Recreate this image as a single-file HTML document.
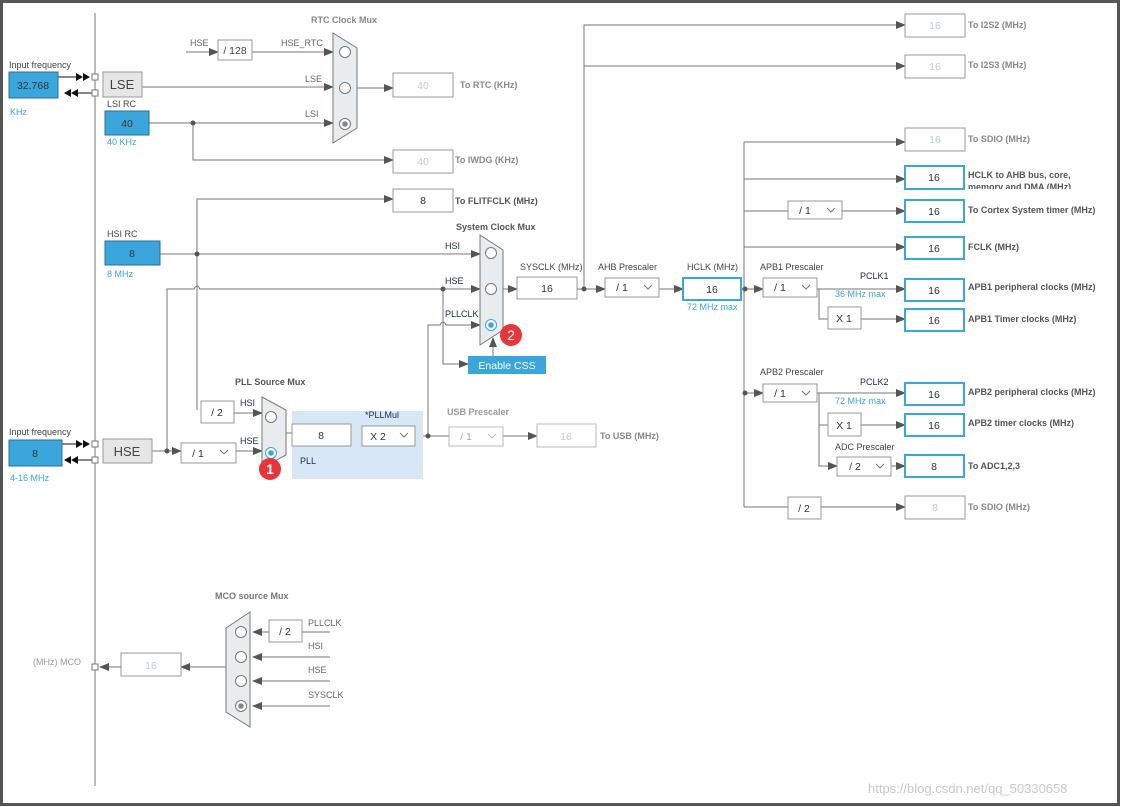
<!DOCTYPE html>
<html><head><meta charset="utf-8"><style>
html,body{margin:0;padding:0;background:#fff;}
svg{display:block;font-family:"Liberation Sans",Arial,sans-serif;}
.l{fill:#666;font-size:9px;}
.lb{fill:#555;font-size:9px;font-weight:bold;}
.d{fill:#1a2a50;font-size:9px;}
.b{fill:#3aa6dc;font-size:9px;}
.v{font-size:10.5px;text-anchor:middle;fill:#333;}
.g{font-size:10.5px;text-anchor:middle;fill:#b8cce0;}
</style></head><body>
<svg width="1121" height="807" viewBox="0 0 1121 807" xmlns="http://www.w3.org/2000/svg">
<defs>
<marker id="a" markerWidth="10" markerHeight="8" refX="9" refY="4" orient="auto" markerUnits="userSpaceOnUse"><path d="M0,0 L10,4 L0,8 z" fill="#555"/></marker>
</defs>
<rect x="1.5" y="1.5" width="1117" height="803" fill="#fff" stroke="#555" stroke-width="3"/>
<g stroke="#777" stroke-width="1" fill="none">
<line x1="95" y1="13" x2="95" y2="786"/>
<line x1="186" y1="52" x2="218" y2="52" marker-end="url(#a)"/>
<line x1="252" y1="52" x2="333" y2="52" marker-end="url(#a)"/>
<line x1="142" y1="87" x2="333" y2="87" marker-end="url(#a)"/>
<line x1="149" y1="123" x2="333" y2="123" marker-end="url(#a)"/>
<polyline points="193,123 193,160 393,160" marker-end="url(#a)"/>
<line x1="357" y1="88" x2="393" y2="88" marker-end="url(#a)"/>
<polyline points="197,410 197,199 393,199" marker-end="url(#a)"/>
<line x1="160" y1="254" x2="480" y2="254" marker-end="url(#a)"/>
<path d="M167,451 L167,289 L194,289 Q197,283 200,289 L480,289" marker-end="url(#a)"/>
<polyline points="443,289 443,364 468,364" marker-end="url(#a)"/>
<path d="M428,436 L428,325 L440,325 Q443,319 446,325 L480,325" marker-end="url(#a)"/>
<line x1="493" y1="356" x2="493" y2="338" marker-end="url(#a)"/>
<line x1="503" y1="289" x2="517" y2="289" marker-end="url(#a)"/>
<line x1="577" y1="289" x2="605" y2="289" marker-end="url(#a)"/>
<polyline points="584,289 584,25 905,25" marker-end="url(#a)"/>
<line x1="584" y1="66" x2="905" y2="66" marker-end="url(#a)"/>
<line x1="659" y1="289" x2="683" y2="289" marker-end="url(#a)"/>
<line x1="741" y1="289" x2="763" y2="289" marker-end="url(#a)"/>
<line x1="744" y1="142" x2="744" y2="507"/>
<line x1="744" y1="142" x2="905" y2="142" marker-end="url(#a)"/>
<line x1="744" y1="179" x2="905" y2="179" marker-end="url(#a)"/>
<line x1="744" y1="211" x2="788" y2="211"/>
<line x1="842" y1="211" x2="905" y2="211" marker-end="url(#a)"/>
<line x1="744" y1="247" x2="905" y2="247" marker-end="url(#a)"/>
<line x1="817" y1="289" x2="905" y2="289" marker-end="url(#a)"/>
<polyline points="819,289 819,319 828,319"/>
<line x1="861" y1="319" x2="905" y2="319" marker-end="url(#a)"/>
<line x1="744" y1="393" x2="763" y2="393" marker-end="url(#a)"/>
<line x1="817" y1="393" x2="905" y2="393" marker-end="url(#a)"/>
<polyline points="819,393 819,466 837,466" marker-end="url(#a)"/>
<line x1="819" y1="425" x2="828" y2="425"/>
<line x1="861" y1="425" x2="905" y2="425" marker-end="url(#a)"/>
<line x1="891" y1="466" x2="905" y2="466" marker-end="url(#a)"/>
<line x1="744" y1="507" x2="788" y2="507"/>
<line x1="821" y1="507" x2="905" y2="507" marker-end="url(#a)"/>
<line x1="234" y1="413" x2="262" y2="413" marker-end="url(#a)"/>
<line x1="152" y1="451" x2="181" y2="451" marker-end="url(#a)"/>
<line x1="236" y1="451" x2="262" y2="451" marker-end="url(#a)"/>
<line x1="286" y1="433" x2="292" y2="433"/>
<line x1="351" y1="436" x2="362" y2="436"/>
<line x1="415" y1="436" x2="449" y2="436"/>
<line x1="503" y1="436" x2="537" y2="436" marker-end="url(#a)"/>
<line x1="330" y1="632" x2="302" y2="632"/>
<line x1="269" y1="632" x2="253" y2="632" marker-end="url(#a)"/>
<line x1="330" y1="657" x2="253" y2="657" marker-end="url(#a)"/>
<line x1="330" y1="681" x2="253" y2="681" marker-end="url(#a)"/>
<line x1="330" y1="706" x2="253" y2="706" marker-end="url(#a)"/>
<line x1="226" y1="667" x2="181" y2="667" marker-end="url(#a)"/>
<line x1="121" y1="667" x2="100" y2="667" marker-end="url(#a)"/>
</g>
<g stroke="#111" fill="#111">
<line x1="58" y1="77" x2="78" y2="77"/><line x1="95" y1="93" x2="75" y2="93"/>
<line x1="62" y1="444" x2="78" y2="444"/><line x1="95" y1="460" x2="75" y2="460"/>
</g>
<g fill="#111">
<path d="M76,73 L83,77 L76,81z M83,73 L90,77 L83,81z"/>
<path d="M71,89 L64,93 L71,97z M78,89 L71,93 L78,97z"/>
<path d="M76,440 L83,444 L76,448z M83,440 L90,444 L83,448z"/>
<path d="M71,456 L64,460 L71,464z M78,456 L71,460 L78,464z"/>
</g>
<g fill="#fff" stroke="#777"><rect x="92" y="74" width="6" height="6"/><rect x="92" y="90" width="6" height="6"/><rect x="92" y="441" width="6" height="6"/><rect x="92" y="457" width="6" height="6"/><rect x="92" y="664" width="6" height="6"/></g>
<g fill="#555"><circle cx="193" cy="123" r="2.5"/><circle cx="197" cy="254" r="2.5"/><circle cx="443" cy="289" r="2.5"/><circle cx="584" cy="289" r="2.5"/><circle cx="745" cy="289" r="2.5"/><circle cx="745" cy="393" r="2.5"/><circle cx="167" cy="451" r="2.5"/><circle cx="428" cy="436" r="2.5"/></g>
<rect x="292" y="411" width="131" height="68" fill="#d8e7f5"/>
<g fill="#3aa6dc" stroke="#2a6f9a"><rect x="9" y="72" width="49" height="26"/><rect x="105" y="111" width="44" height="24"/><rect x="105" y="241" width="55" height="24"/><rect x="9" y="440" width="53" height="26"/></g>
<text x="33" y="89" class="v">32.768</text><text x="127" y="127" class="v">40</text><text x="132" y="257" class="v">8</text><text x="35" y="457" class="v">8</text>
<g fill="#e6e6e6" stroke="#999"><rect x="103" y="72" width="39" height="25"/><rect x="103" y="439" width="49" height="24"/></g>
<text x="122" y="89" style="font-size:13px;text-anchor:middle;fill:#444">LSE</text><text x="127" y="456" style="font-size:13px;text-anchor:middle;fill:#444">HSE</text>
<g fill="#fff" stroke="#999">
<rect x="218" y="40" width="34" height="20"/>
<rect x="393" y="73" width="60" height="24"/><rect x="393" y="150" width="60" height="23"/><rect x="393" y="189" width="60" height="23"/>
<rect x="517" y="277" width="60" height="22"/>
<rect x="905" y="14" width="60" height="23"/><rect x="905" y="55" width="60" height="23"/><rect x="905" y="128" width="60" height="23"/><rect x="905" y="496" width="60" height="23"/>
<rect x="605" y="278" width="54" height="19"/><rect x="763" y="278" width="54" height="19"/><rect x="763" y="384" width="54" height="18"/><rect x="788" y="201" width="54" height="18"/><rect x="837" y="457" width="54" height="19"/>
<rect x="828" y="307" width="33" height="22"/><rect x="828" y="413" width="33" height="23"/><rect x="788" y="497" width="33" height="22"/>
<rect x="201" y="401" width="33" height="22"/><rect x="181" y="443" width="55" height="20"/><rect x="292" y="424" width="59" height="22"/><rect x="362" y="426" width="53" height="20"/>
<rect x="449" y="427" width="54" height="19" stroke="#bbb"/><rect x="537" y="424" width="59" height="23" stroke="#bbb"/>
<rect x="269" y="620" width="33" height="22"/><rect x="121" y="653" width="60" height="23"/>
</g>
<g fill="#fff" stroke="#3aa6dc" stroke-width="2">
<rect x="683" y="278" width="58" height="22"/>
<rect x="905" y="166" width="59" height="23"/><rect x="905" y="200" width="59" height="22"/><rect x="905" y="237" width="59" height="22"/><rect x="905" y="279" width="59" height="22"/><rect x="905" y="309" width="59" height="22"/><rect x="905" y="383" width="59" height="22"/><rect x="905" y="414" width="59" height="22"/><rect x="905" y="455" width="59" height="22"/>
</g>
<g fill="none" stroke="#777"><polyline points="644,285 648,289 652,285"/><polyline points="802,285 806,289 810,285"/><polyline points="802,391 806,395 810,391"/><polyline points="827,208 831,212 835,208"/><polyline points="876,464 880,468 884,464"/><polyline points="220,450 224,454 228,450"/><polyline points="400,433 404,437 408,433"/><polyline points="488,434 492,438 496,434" stroke="#bbb"/></g>
<g fill="#e8ecef" stroke="#777">
<polygon points="333,33 357,48 357,128 333,143"/>
<polygon points="480,235 503,250 503,330 480,345"/>
<polygon points="262,397 286,410 286,455 262,468"/>
<polygon points="250,612 250,727 226,712 226,628"/>
</g>
<g fill="#fff" stroke="#777"><circle cx="345" cy="52" r="5.5"/><circle cx="345" cy="88" r="5.5"/><circle cx="345" cy="124" r="5.5"/><circle cx="491" cy="253" r="5.5"/><circle cx="491" cy="289" r="5.5"/><circle cx="271" cy="417" r="5.5"/><circle cx="241" cy="632" r="5.5"/><circle cx="241" cy="657" r="5.5"/><circle cx="241" cy="681" r="5.5"/><circle cx="241" cy="706" r="5.5"/></g>
<circle cx="491" cy="325" r="5.5" fill="#fff" stroke="#3aa6dc"/><circle cx="491" cy="325" r="2.8" fill="#3aa6dc"/>
<circle cx="271" cy="453" r="5.5" fill="#fff" stroke="#3aa6dc"/><circle cx="271" cy="453" r="2.8" fill="#3aa6dc"/>
<circle cx="345" cy="124" r="2.8" fill="#888"/><circle cx="241" cy="706" r="2.8" fill="#888"/>
<circle cx="511" cy="335" r="11" fill="#e8343a"/><text x="511" y="340" style="font-size:14px;fill:#fff;text-anchor:middle">2</text>
<circle cx="270" cy="469" r="11" fill="#e8343a"/><text x="270" y="474" style="font-size:14px;fill:#fff;text-anchor:middle;font-weight:bold">1</text>
<rect x="468" y="356" width="78" height="18" fill="#3aa6dc"/><text x="507" y="369" style="font-size:10.5px;fill:#fff;text-anchor:middle">Enable CSS</text>
<text x="235" y="54" style="font-size:10.5px;text-anchor:middle;fill:#444">/ 128</text>
<text x="423" y="89" class="g">40</text><text x="423" y="165" class="g">40</text><text x="423" y="204" class="v">8</text>
<text x="547" y="292" class="v">16</text><text x="712" y="293" class="v">16</text>
<text x="935" y="29" class="g">16</text><text x="935" y="70" class="g">16</text><text x="935" y="143" class="g">16</text><text x="935" y="511" class="g">8</text>
<text x="934" y="181" class="v">16</text><text x="934" y="215" class="v">16</text><text x="934" y="252" class="v">16</text><text x="934" y="294" class="v">16</text><text x="934" y="324" class="v">16</text><text x="934" y="398" class="v">16</text><text x="934" y="429" class="v">16</text><text x="934" y="470" class="v">8</text>
<text x="622" y="291" class="v">/ 1</text><text x="780" y="291" class="v">/ 1</text><text x="780" y="397" class="v">/ 1</text><text x="805" y="214" class="v">/ 1</text><text x="855" y="470" class="v">/ 2</text>
<text x="844" y="322" class="v">X 1</text><text x="844" y="429" class="v">X 1</text><text x="804" y="512" class="v">/ 2</text>
<text x="217" y="416" class="v">/ 2</text><text x="198" y="457" class="v">/ 1</text><text x="321" y="439" class="v">8</text><text x="378" y="440" class="v">X 2</text>
<text x="466" y="440" class="g" style="fill:#aaa">/ 1</text><text x="566" y="440" class="g">16</text>
<text x="285" y="635" class="v">/ 2</text><text x="151" y="669" class="g">16</text>
<text x="9" y="68" class="l" style="fill:#444">Input frequency</text><text x="10" y="115" class="b">KHz</text>
<text x="107" y="107" class="l" style="fill:#444">LSI RC</text><text x="107" y="145" class="b">40 KHz</text>
<text x="107" y="237" class="l" style="fill:#444">HSI RC</text><text x="107" y="277" class="b">8 MHz</text>
<text x="9" y="435" class="l" style="fill:#444">Input frequency</text><text x="10" y="481" class="b">4-16 MHz</text>
<text x="311" y="23" class="lb" style="fill:#888">RTC Clock Mux</text>
<text x="190" y="46" class="l">HSE</text><text x="281" y="46" class="l">HSE_RTC</text><text x="305" y="82" class="l">LSE</text><text x="305" y="117" class="l">LSI</text>
<text x="460" y="88" class="lb" style="fill:#888">To RTC (KHz)</text><text x="455" y="163" class="lb" style="fill:#888">To IWDG (KHz)</text>
<text x="455" y="204" class="lb">To FLITFCLK (MHz)</text>
<text x="456" y="230" class="lb">System Clock Mux</text>
<text x="445" y="249" class="d">HSI</text><text x="445" y="284" class="d">HSE</text><text x="445" y="317" class="d">PLLCLK</text>
<text x="520" y="270" class="l" style="fill:#444">SYSCLK (MHz)</text><text x="598" y="270" class="l" style="fill:#444">AHB Prescaler</text><text x="687" y="270" class="l" style="fill:#444">HCLK (MHz)</text><text x="687" y="310" class="b">72 MHz max</text>
<text x="968" y="28" class="lb" style="fill:#888">To I2S2 (MHz)</text><text x="968" y="68" class="lb" style="fill:#888">To I2S3 (MHz)</text><text x="968" y="142" class="lb" style="fill:#888">To SDIO (MHz)</text>
<text x="968" y="178" class="lb">HCLK to AHB bus, core,</text>
<svg x="960" y="180" width="120" height="9" overflow="hidden"><text x="8" y="10" class="lb">memory and DMA (MHz)</text></svg>
<text x="968" y="213" class="lb">To Cortex System timer (MHz)</text><text x="968" y="250" class="lb">FCLK (MHz)</text>
<text x="760" y="270" class="l" style="fill:#444">APB1 Prescaler</text><text x="860" y="279" class="d">PCLK1</text><text x="835" y="297" class="b">36 MHz max</text>
<text x="968" y="290" class="lb">APB1 peripheral clocks (MHz)</text><text x="968" y="322" class="lb">APB1 Timer clocks (MHz)</text>
<text x="760" y="375" class="l" style="fill:#444">APB2 Prescaler</text><text x="860" y="385" class="d">PCLK2</text><text x="835" y="404" class="b">72 MHz max</text>
<text x="968" y="395" class="lb">APB2 peripheral clocks (MHz)</text><text x="968" y="426" class="lb">APB2 timer clocks (MHz)</text>
<text x="835" y="450" class="l" style="fill:#444">ADC Prescaler</text><text x="968" y="469" class="lb">To ADC1,2,3</text><text x="968" y="510" class="lb" style="fill:#888">To SDIO (MHz)</text>
<text x="235" y="385" class="lb">PLL Source Mux</text><text x="240" y="406" class="d">HSI</text><text x="240" y="444" class="d">HSE</text>
<text x="365" y="418" class="d">*PLLMul</text><text x="300" y="464" class="d">PLL</text>
<text x="447" y="415" class="lb" style="fill:#999">USB Prescaler</text><text x="600" y="439" class="lb" style="fill:#888">To USB (MHz)</text>
<text x="215" y="599" class="lb" style="fill:#777">MCO source Mux</text>
<text x="308" y="626" class="l">PLLCLK</text><text x="308" y="649" class="l">HSI</text><text x="308" y="673" class="l">HSE</text><text x="308" y="698" class="l">SYSCLK</text>
<text x="33" y="665" class="l" style="fill:#999">(MHz) MCO</text>
<text x="868" y="793" style="font-size:13px;fill:#c8c8c8">https://blog.csdn.net/qq_50330658</text>
</svg>
</body></html>
